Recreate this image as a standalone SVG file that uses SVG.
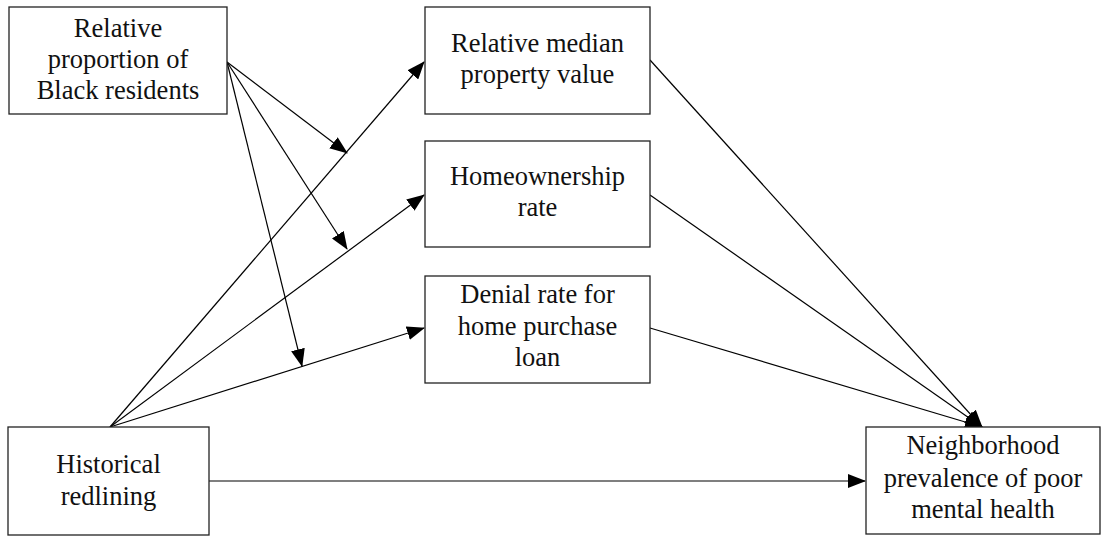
<svg xmlns="http://www.w3.org/2000/svg" width="1103" height="536" viewBox="0 0 1103 536">
<style>
.box{fill:#fff;stroke:#222;stroke-width:1.3}
.t{fill:#111;text-anchor:middle}
.c line{stroke:#000;stroke-width:1.2;marker-end:url(#ah)}
</style>
<defs>
<marker id="ah" markerUnits="userSpaceOnUse" markerWidth="18" markerHeight="14" viewBox="0 0 18 14" refX="17" refY="7" orient="auto">
<path d="M0,0 L18,7 L0,14 Z" fill="#000"/>
</marker>
</defs>
<rect width="1103" height="536" fill="#fff"/>
<g class="c" id="connectors">
<line x1="227" y1="62" x2="347" y2="153"/>
<line x1="227" y1="62" x2="347" y2="249"/>
<line x1="227" y1="62" x2="302" y2="366"/>
<line x1="110" y1="427" x2="424" y2="62"/>
<line x1="110" y1="427" x2="424" y2="195"/>
<line x1="110" y1="427" x2="424" y2="328"/>
<line x1="650" y1="60" x2="982" y2="427"/>
<line x1="650" y1="195" x2="982" y2="427"/>
<line x1="650" y1="328" x2="982" y2="427"/>
<line x1="209" y1="481" x2="865" y2="481"/>
</g>
<g font-family="'Liberation Serif', 'Times New Roman', serif" font-size="26.5">
<g id="n_black">
<rect class="box" x="9" y="7" width="218" height="107"/>
<text class="t" x="118" y="37">Relative</text>
<text class="t" x="118" y="68">proportion of</text>
<text class="t" x="118" y="99">Black residents</text>
</g>
<g id="n_property">
<rect class="box" x="425" y="7" width="225" height="107"/>
<text class="t" x="537.5" y="52">Relative median</text>
<text class="t" x="537.5" y="83">property value</text>
</g>
<g id="n_homeownership">
<rect class="box" x="425" y="141" width="225" height="106"/>
<text class="t" x="537.5" y="185">Homeownership</text>
<text class="t" x="537.5" y="216">rate</text>
</g>
<g id="n_denial">
<rect class="box" x="425" y="276" width="225" height="107"/>
<text class="t" x="537.5" y="303">Denial rate for</text>
<text class="t" x="537.5" y="335">home purchase</text>
<text class="t" x="537.5" y="366">loan</text>
</g>
<g id="n_redlining">
<rect class="box" x="8" y="427" width="201" height="108"/>
<text class="t" x="108.5" y="473">Historical</text>
<text class="t" x="108.5" y="505">redlining</text>
</g>
<g id="n_mental">
<rect class="box" x="866" y="427" width="234" height="107"/>
<text class="t" x="983" y="454">Neighborhood</text>
<text class="t" x="983" y="487">prevalence of poor</text>
<text class="t" x="983" y="518">mental health</text>
</g>
</g>
</svg>
